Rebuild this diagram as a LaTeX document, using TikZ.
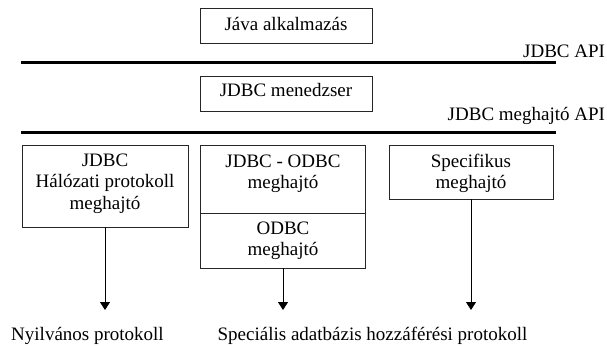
\documentclass[tikz,border=0pt]{standalone}
\usepackage{fontspec}
\setmainfont{Liberation Serif}
\usetikzlibrary{arrows.meta}
\begin{document}
\begin{tikzpicture}[x=1pt,y=-1pt,
  every node/.style={font=\fontsize{19}{21.5}\selectfont},
  boxn/.style={draw=black!85,line width=0.9pt,rectangle,inner sep=0pt,outer sep=0pt},
  txt/.style={anchor=base,inner sep=0pt,outer sep=0pt},
  apiline/.style={line width=3pt,black},
  conn/.style={line width=1pt,black,-{Triangle[length=8pt,width=10pt]}}]
\useasboundingbox (0,0) rectangle (607,345);
% boxes
\node[boxn,minimum width=172pt,minimum height=35pt] (jb) at (286,25.5) {};
\node[boxn,minimum width=172pt,minimum height=35pt] (mb) at (286,93.5) {};
\node[boxn,minimum width=166pt,minimum height=82pt] (lb) at (105,186) {};
\node[boxn,minimum width=165pt,minimum height=68pt] (mub) at (283,179) {};
\node[boxn,minimum width=165pt,minimum height=55pt] (mlb) at (283,240.5) {};
\node[boxn,minimum width=164pt,minimum height=54pt] (rb) at (471,172) {};
% box texts
\node[txt] (jbt) at (286,30.5) {Jáva alkalmazás};
\node[txt] (mbt) at (286,96.7) {JDBC menedzser};
\node[txt] (lbt1) at (105,166) {JDBC};
\node[txt] (lbt2) at (105,187.5) {Hálózati protokoll};
\node[txt] (lbt3) at (105,209) {meghajtó};
\node[txt] (mubt1) at (283,167) {JDBC - ODBC};
\node[txt] (mubt2) at (283,188.5) {meghajtó};
\node[txt] (mlbt1) at (283,234) {ODBC};
\node[txt] (mlbt2) at (283,255.5) {meghajtó};
\node[txt] (rbt1) at (471,167) {Specifikus};
\node[txt] (rbt2) at (471,188.5) {meghajtó};
% API lines and labels
\coordinate (a1l) at (21,62);
\coordinate (a1r) at (556,62);
\coordinate (a2l) at (21,132);
\coordinate (a2r) at (556,132);
\draw[apiline] (a1l) -- (a1r);
\draw[apiline] (a2l) -- (a2r);
\node[txt,anchor=base east] (api1) at (605,57.3) {JDBC API};
\node[txt,anchor=base east] (api2) at (605,120.7) {JDBC meghajtó API};
% arrows
\coordinate (t1) at (105,310);
\coordinate (t2) at (283,310);
\coordinate (t3) at (471,310);
\draw[conn] (lb.south) -- (t1);
\draw[conn] (mlb.south) -- (t2);
\draw[conn] (rb.south) -- (t3);
% bottom labels
\node[txt] (bl1) at (87.5,340.7) {Nyilvános protokoll};
\node[txt] (bl2) at (372.5,340.7) {Speciális adatbázis hozzáférési protokoll};
\end{tikzpicture}
\end{document}
